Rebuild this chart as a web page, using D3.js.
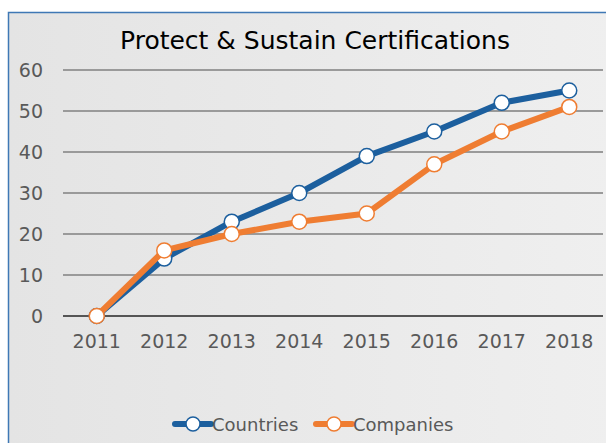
<!DOCTYPE html>
<html>
<head>
<meta charset="utf-8">
<script src="https://cdn.jsdelivr.net/npm/d3@7"></script>
<style>
  body { margin: 0; background: #fff; }
  text { font-family: "DejaVu Sans", sans-serif; }
</style>
</head>
<body>
<div id="chart"></div>
<script>
// Data
const years = ["2011", "2012", "2013", "2014", "2015", "2016", "2017", "2018"];
const countries = [0, 14, 23, 30, 39, 45, 52, 55];
const companies = [0, 16, 20, 23, 25, 37, 45, 51];
const yTicks = [0, 10, 20, 30, 40, 50, 60];

const width = 606;
const height = 443;
const margin = { top: 70, right: 3, bottom: 127, left: 63 };

const svg = d3.select("#chart")
    .append("svg")
    .attr("width", width)
    .attr("height", height);

// Background with soft gradient
const defs = svg.append("defs");
const grad = defs.append("linearGradient")
    .attr("id", "bg")
    .attr("x1", "0%").attr("x2", "100%")
    .attr("y1", "0%").attr("y2", "0%");
grad.append("stop").attr("offset", "0%").attr("stop-color", "#e4e4e4");
grad.append("stop").attr("offset", "100%").attr("stop-color", "#efefef");

svg.append("rect")
    .attr("x", 8.5)
    .attr("y", 12.5)
    .attr("width", width)
    .attr("height", height)
    .attr("fill", "url(#bg)")
    .attr("stroke", "#3f78b5")
    .attr("stroke-width", 1.5);

// Scales
const xScale = d3.scaleBand()
    .domain(years)
    .range([margin.left, width - margin.right]);

const yScale = d3.scaleLinear()
    .domain([0, 60])
    .range([height - margin.bottom, margin.top]);

const xPos = d => xScale(d) + xScale.bandwidth() / 2;

// Gridlines
svg.append("g")
    .selectAll("line")
    .data(yTicks)
    .enter()
    .append("line")
    .attr("x1", margin.left)
    .attr("x2", width - margin.right)
    .attr("y1", d => yScale(d))
    .attr("y2", d => yScale(d))
    .attr("stroke", d => d === 0 ? "#555" : "#9a9a9a")
    .attr("stroke-width", 2);

// Y axis labels
const yAxis = d3.axisLeft(yScale)
    .tickValues(yTicks)
    .tickSize(0)
    .tickPadding(20);
const gy = svg.append("g")
    .attr("transform", `translate(${margin.left},0)`)
    .call(yAxis);
gy.select(".domain").remove();
gy.selectAll("text")
    .attr("fill", "#595959")
    .style("font-size", "19px");

// X axis labels
const xAxis = d3.axisBottom(xScale)
    .tickSize(0)
    .tickPadding(19);
const gx = svg.append("g")
    .attr("transform", `translate(0,${height - margin.bottom})`)
    .call(xAxis);
gx.select(".domain").remove();
gx.selectAll("text")
    .attr("fill", "#595959")
    .style("font-size", "19px");

// Lines
const series = [
    { name: "Countries", values: countries, color: "#1c5f9e" },
    { name: "Companies", values: companies, color: "#ef7d32" }
];

const line = d3.line()
    .x((d, i) => xPos(years[i]))
    .y(d => yScale(d));

series.forEach(s => {
    svg.append("path")
        .datum(s.values)
        .attr("d", line)
        .attr("fill", "none")
        .attr("stroke", s.color)
        .attr("stroke-width", 6)
        .attr("stroke-linejoin", "round");

    svg.append("g")
        .selectAll("circle")
        .data(s.values)
        .enter()
        .append("circle")
        .attr("cx", (d, i) => xPos(years[i]))
        .attr("cy", d => yScale(d))
        .attr("r", 7.5)
        .attr("fill", "#fff")
        .attr("stroke", s.color)
        .attr("stroke-width", 1.5);
});

// Title
svg.append("text")
    .attr("x", 315)
    .attr("y", 49)
    .style("text-anchor", "middle")
    .style("font-size", "25px")
    .attr("fill", "#000")
    .text("Protect & Sustain Certifications");

// Legend
const legendX = [175, 316];
const legend = svg.append("g");
const items = legend.selectAll(".legendItem")
    .data(series)
    .enter()
    .append("g")
    .attr("class", "legendItem")
    .attr("transform", (d, i) => `translate(${legendX[i]}, 424)`);

items.append("line")
    .attr("x1", 0)
    .attr("x2", 36)
    .attr("stroke", d => d.color)
    .attr("stroke-width", 6)
    .attr("stroke-linecap", "round");

items.append("circle")
    .attr("cx", 18)
    .attr("r", 7)
    .attr("fill", "#fff")
    .attr("stroke", d => d.color)
    .attr("stroke-width", 1.5);

items.append("text")
    .attr("x", 37)
    .attr("y", 7)
    .attr("fill", "#595959")
    .style("font-size", "18px")
    .text(d => d.name);
</script>
</body>
</html>
